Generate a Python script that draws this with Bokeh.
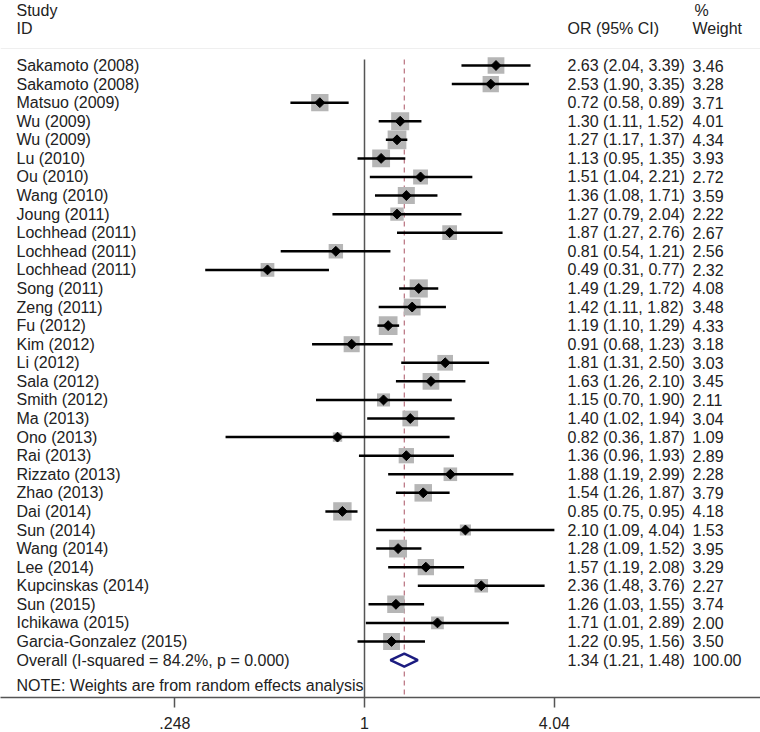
import numpy as np
from bokeh.plotting import figure
from bokeh.models import Range1d, FixedTicker, ColumnDataSource
from bokeh.core.properties import value
from bokeh.embed import file_html
from bokeh.resources import INLINE

studies = ["Sakamoto (2008)", "Sakamoto (2008)", "Matsuo (2009)", "Wu (2009)", "Wu (2009)",
           "Lu (2010)", "Ou (2010)", "Wang (2010)", "Joung (2011)", "Lochhead (2011)",
           "Lochhead (2011)", "Lochhead (2011)", "Song (2011)", "Zeng (2011)", "Fu (2012)",
           "Kim (2012)", "Li (2012)", "Sala (2012)", "Smith (2012)", "Ma (2013)", "Ono (2013)",
           "Rai (2013)", "Rizzato (2013)", "Zhao (2013)", "Dai (2014)", "Sun (2014)",
           "Wang (2014)", "Lee (2014)", "Kupcinskas (2014)", "Sun (2015)", "Ichikawa (2015)",
           "Garcia-Gonzalez (2015)"]
or_est = [2.63, 2.53, 0.72, 1.30, 1.27, 1.13, 1.51, 1.36, 1.27, 1.87, 0.81, 0.49, 1.49, 1.42,
          1.19, 0.91, 1.81, 1.63, 1.15, 1.40, 0.82, 1.36, 1.88, 1.54, 0.85, 2.10, 1.28, 1.57,
          2.36, 1.26, 1.71, 1.22]
ci_lo = [2.04, 1.90, 0.58, 1.11, 1.17, 0.95, 1.04, 1.08, 0.79, 1.27, 0.54, 0.31, 1.29, 1.11,
         1.10, 0.68, 1.31, 1.26, 0.70, 1.02, 0.36, 0.96, 1.19, 1.26, 0.75, 1.09, 1.09, 1.19,
         1.48, 1.03, 1.01, 0.95]
ci_hi = [3.39, 3.35, 0.89, 1.52, 1.37, 1.35, 2.21, 1.71, 2.04, 2.76, 1.21, 0.77, 1.72, 1.82,
         1.29, 1.23, 2.50, 2.10, 1.90, 1.94, 1.87, 1.93, 2.99, 1.87, 0.95, 4.04, 1.52, 2.08,
         3.76, 1.55, 2.89, 1.56]
weights = [3.46, 3.28, 3.71, 4.01, 4.34, 3.93, 2.72, 3.59, 2.22, 2.67, 2.56, 2.32, 4.08, 3.48,
           4.33, 3.18, 3.03, 3.45, 2.11, 3.04, 1.09, 2.89, 2.28, 3.79, 4.18, 1.53, 3.95, 3.29,
           2.27, 3.74, 2.00, 3.50]
overall_label = "Overall  (I-squared = 84.2%, p = 0.000)"
overall = [1.34, 1.21, 1.48, 100.00]
note = "NOTE: Weights are from random effects analysis"
tick_vals = [0.248, 1, 4.04]
tick_labels = [".248", "1", "4.04"]

# ---- layout (pixels) ----
FW, FH = 760, 697
X1PX, K = 364.0, 136.0          # pixel of OR=1, pixels per ln unit
def px2x(px):
    return float(np.exp((px - X1PX) / K))

Y0, DY = 65.0, 18.58            # first row centre, row spacing
n = len(studies)
ys = [Y0 + i * DY for i in range(n)]
y_over = Y0 + n * DY
y_note = y_over + 25.5
y_id = 28.0
y_study = 10.0

FONT = value("Liberation Sans")
FS = "16px"
TXT = "#222222"

p = figure(frame_width=FW, frame_height=FH, x_axis_type="log",
           x_range=Range1d(px2x(0), px2x(FW)), y_range=Range1d(FH, 0),
           output_backend="svg", toolbar_location=None, min_border=0)
p.yaxis.visible = False
p.grid.visible = False
p.outline_line_color = None
p.background_fill_color = "white"
p.border_fill_color = "white"

ax = p.xaxis[0]
ax.ticker = FixedTicker(ticks=tick_vals, minor_ticks=[])
ax.major_label_overrides = {v: l for v, l in zip(tick_vals, tick_labels)}
ax.axis_line_color = "#555555"
ax.axis_line_width = 1.5
ax.major_tick_line_color = "#555555"
ax.major_tick_line_width = 1.5
ax.major_tick_in = 0
ax.major_tick_out = 10
ax.minor_tick_line_color = None
ax.major_label_standoff = 9
ax.major_label_text_font = "Liberation Sans"
ax.major_label_text_font_size = FS
ax.major_label_text_color = TXT

# header separator
p.segment(x0=[px2x(0)], y0=[48], x1=[px2x(FW)], y1=[48],
          line_color="#efefef", line_width=1)

# reference lines
y_top = Y0 - 6
p.segment(x0=[1], y0=[y_top], x1=[1], y1=[FH], line_color="#555555", line_width=1.5)
p.segment(x0=[overall[0]], y0=[y_top], x1=[overall[0]], y1=[FH],
          line_color="#b8707e", line_width=1.2, line_dash="5 4")

src = ColumnDataSource(dict(y=ys, est=or_est, lo=ci_lo, hi=ci_hi,
                            sz=[9.0 * np.sqrt(w) for w in weights]))
p.scatter(x="est", y="y", size="sz", marker="square", source=src,
          fill_color="#b6b6b6", line_color=None)
p.segment(x0="lo", y0="y", x1="hi", y1="y", source=src, line_color="black", line_width=2.5)
p.scatter(x="est", y="y", size=7, marker="square", angle=np.pi / 4, source=src,
          fill_color="black", line_color="black")

# overall diamond
h = 6.5
p.patch(x=[overall[1], overall[0], overall[2], overall[0]],
        y=[y_over, y_over - h, y_over, y_over + h],
        fill_color="white", line_color="#1c1c80", line_width=2.5)

# texts
x_lab, x_or, x_w = px2x(16), px2x(567), px2x(692)
labels = studies + [overall_label, note]
label_y = ys + [y_over, y_note]
p.text(x=[x_lab] * len(labels), y=label_y, text=labels, text_font=FONT,
       text_font_size=FS, text_color=TXT, text_baseline="middle", text_align="left")

or_txt = ["%.2f (%.2f, %.2f)" % (a, b, c) for a, b, c in zip(or_est, ci_lo, ci_hi)]
or_txt.append("%.2f (%.2f, %.2f)" % (overall[0], overall[1], overall[2]))
w_txt = ["%.2f" % w for w in weights] + ["%.2f" % overall[3]]
p.text(x=[x_or] * len(or_txt), y=ys + [y_over], text=or_txt, text_font=FONT,
       text_font_size=FS, text_color=TXT, text_baseline="middle", text_align="left")
p.text(x=[x_w] * len(w_txt), y=ys + [y_over], text=w_txt, text_font=FONT,
       text_font_size=FS, text_color=TXT, text_baseline="middle", text_align="left")

# headers
hx = [x_lab, x_lab, x_or, px2x(694), x_w]
hy = [y_study, y_id, y_id, y_study, y_id]
ht = ["Study", "ID", "OR (95% CI)", "%", "Weight"]
p.text(x=hx, y=hy, text=ht, text_font=FONT, text_font_size=FS, text_color=TXT,
       text_baseline="middle", text_align="left")

open("out.html", "w").write(file_html(p, INLINE))
